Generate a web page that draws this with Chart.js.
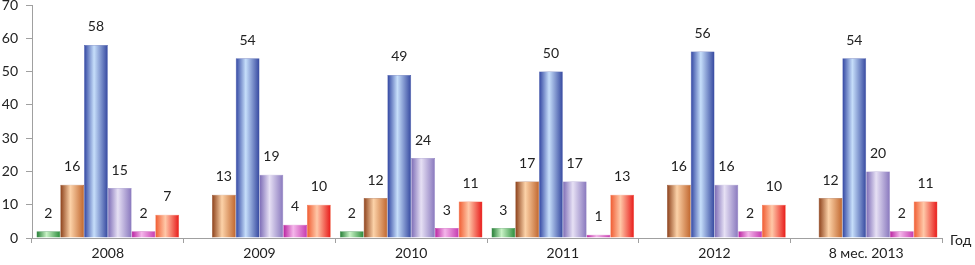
<!DOCTYPE html>
<html>
<head>
<meta charset="utf-8">
<script src="https://cdn.jsdelivr.net/npm/chart.js@4/dist/chart.umd.min.js"></script>
<style>
  html, body { margin: 0; padding: 0; background: #fff; }
  #wrap { width: 975px; height: 265px; }
</style>
</head>
<body>
<div id="wrap"><canvas id="barChart"></canvas></div>
<script>
// categories and series
var years = ["2008", "2009", "2010", "2011", "2012", "8 мес. 2013"];
var seriesA = [2, null, 2, 3, null, null];
var seriesB = [16, 13, 12, 17, 16, 12];
var seriesC = [58, 54, 49, 50, 56, 54];
var seriesD = [15, 19, 24, 17, 16, 20];
var seriesE = [2, 4, 3, 1, 2, 2];
var seriesF = [7, 10, 11, 13, 10, 11];
var yTicks = [0, 10, 20, 30, 40, 50, 60, 70];

// left edge, centre, right edge of each bar
var shades = [
  ['#1f7a30', '#c9f2c6', '#2a8c3a'],
  ['#8a3e18', '#fcd2a8', '#c0662e'],
  ['#2f43a0', '#c6defa', '#34479f'],
  ['#7b6ab5', '#e6e0f4', '#8877bd'],
  ['#b8209f', '#f4b6ea', '#c63bb0'],
  ['#f05a30', '#ffc8a8', '#e81818']
];

var FONT = 'Lato, "Liberation Sans", sans-serif';

var cylinder = {
  id: 'cylinder',
  beforeDatasetsDraw: function(chart) {
    var c = chart.ctx;
    chart.data.datasets.forEach(function(ds, i) {
      var meta = chart.getDatasetMeta(i);
      var s = shades[i];
      meta.data.forEach(function(el) {
        var l = el.x - el.width / 2, r = el.x + el.width / 2;
        var g = c.createLinearGradient(l, 0, r, 0);
        g.addColorStop(0, s[0]);
        g.addColorStop(0.42, s[1]);
        g.addColorStop(1, s[2]);
        el.options = Object.assign({}, el.options, {backgroundColor: g});
      });
    });
  }
};

var valueLabels = {
  id: 'valueLabels',
  afterDatasetsDraw: function(chart) {
    var c = chart.ctx;
    c.save();
    c.font = '14px ' + FONT;
    c.fillStyle = '#222';
    c.textAlign = 'center';
    c.textBaseline = 'middle';
    chart.data.datasets.forEach(function(ds, i) {
      chart.getDatasetMeta(i).data.forEach(function(el, j) {
        var v = ds.data[j];
        if (v === null) return;
        c.fillText(String(v), el.x, el.y - 18);
      });
    });
    // axis title at the end of x axis
    c.textAlign = 'left';
    c.fillText('Год', chart.chartArea.right + 8, chart.chartArea.bottom + 2);
    c.restore();
  }
};

var datasets = [seriesA, seriesB, seriesC, seriesD, seriesE, seriesF].map(function(d, i) {
  return {
    data: d,
    backgroundColor: shades[i][1],
    borderColor: shades[i][0],
    borderWidth: 0.5,
    borderSkipped: 'bottom',
    categoryPercentage: 0.94,
    barPercentage: 1
  };
});

new Chart(document.getElementById('barChart').getContext('2d'), {
  type: 'bar',
  data: { labels: years, datasets: datasets },
  options: {
    responsive: true,
    maintainAspectRatio: false,
    animation: false,
    layout: { padding: { top: 5, right: 33, left: 0, bottom: 0 } },
    plugins: { legend: { display: false }, tooltip: { enabled: false } },
    scales: {
      x: {
        grid: { offset: true, drawOnChartArea: false, tickLength: 5, color: '#a0a0a0' },
        border: { color: '#a0a0a0' },
        ticks: { color: '#222', font: { family: FONT, size: 14 }, padding: 2 },
        afterFit: function(s) { s.height = 27; s.paddingLeft = 0; s.paddingRight = 0; }
      },
      y: {
        min: 0, max: 70,
        afterBuildTicks: function(s) { s.ticks = yTicks.map(function(v) { return {value: v}; }); },
        grid: { drawOnChartArea: false, tickLength: 6, color: '#a0a0a0' },
        border: { color: '#a0a0a0' },
        ticks: { color: '#222', font: { family: FONT, size: 14 }, padding: 8 },
        afterFit: function(s) { s.width = 32; s.paddingTop = 0; s.paddingBottom = 0; }
      }
    }
  },
  plugins: [cylinder, valueLabels]
});
</script>
</body>
</html>
